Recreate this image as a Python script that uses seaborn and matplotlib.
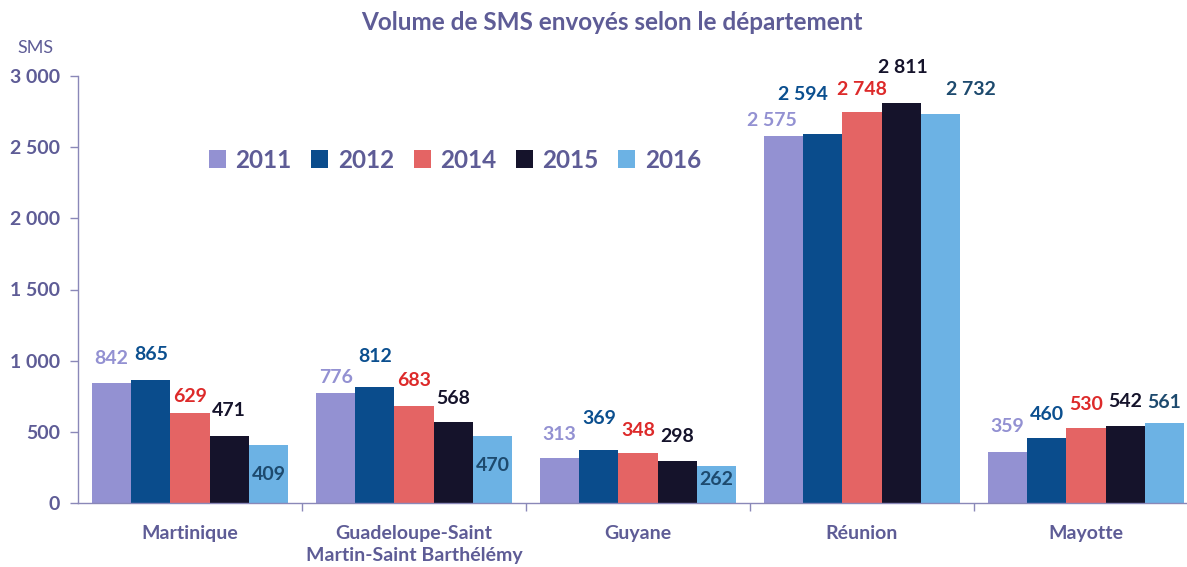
"""Volume de SMS envoyés selon le département (DOM), 2011-2016."""
import matplotlib
matplotlib.use("Agg")
import matplotlib.pyplot as plt
import matplotlib.ticker as mticker
import pandas as pd
import seaborn as sns

DEPARTMENTS = ["Martinique", "Guadeloupe-Saint\nMartin-Saint Barthélémy", "Guyane", "Réunion", "Mayotte"]
YEARS = ["2011", "2012", "2014", "2015", "2016"]
SMS_2011 = [842, 776, 313, 2575, 359]
SMS_2012 = [865, 812, 369, 2594, 460]
SMS_2014 = [629, 683, 348, 2748, 530]
SMS_2015 = [471, 568, 298, 2811, 542]
SMS_2016 = [409, 470, 262, 2732, 561]

BAR_COLORS = ["#9391D2", "#0A4C8C", "#E46464", "#15132B", "#6CB2E4"]
LABEL_COLORS = ["#9391D2", "#0B4F8F", "#DD2A2A", "#15132B", "#1D4A6E"]
TEXT_COLOR = "#5E5C96"
AXIS_COLOR = "#8A88B8"

# label offsets in pixels (dx, dy) per year, per department - layout only
LABEL_DY = [[25, 15, 24, 16, 25], [25, 31, 32, 39, 23], [17, 25, 23, 22, 23],
            [25, 24, 24, 35, 24], [-30, -29, -14, 25, 21]]
LABEL_DX = [[0, 0, 0, -12, 0], [0, 0, 0, -20, 0], [0, 0, 0, 0, 0],
            [0, 0, 0, 2, 0], [0, 0, 0, 30, 0]]


def main() -> None:
    series = [SMS_2011, SMS_2012, SMS_2014, SMS_2015, SMS_2016]
    df = pd.DataFrame(
        [{"dept": d, "year": y, "sms": v} for y, vals in zip(YEARS, series) for d, v in zip(DEPARTMENTS, vals)]
    )

    sns.set_style("white")
    plt.rcParams["font.family"] = ["Lato", "DejaVu Sans"]

    fig = plt.figure(figsize=(11.87, 5.67), dpi=100)
    ax = fig.add_axes([78 / 1187, 1 - 503 / 567, 1120 / 1187, (503 - 76) / 567])
    sns.barplot(data=df, x="dept", y="sms", hue="year", order=DEPARTMENTS, hue_order=YEARS,
                palette=BAR_COLORS, saturation=1, width=0.875, linewidth=0, ax=ax, errorbar=None)

    for i, cont in enumerate(ax.containers):
        for j, bar in enumerate(cont):
            val = series[i][j]
            ax.annotate(f"{val:,}".replace(",", " "),
                        (bar.get_x() + bar.get_width() / 2, bar.get_height()),
                        xytext=(LABEL_DX[i][j], LABEL_DY[i][j]), textcoords="offset pixels",
                        ha="center", va="center", fontsize=14, fontweight="bold", color=LABEL_COLORS[i])

    ax.set_xlim(-0.5, len(DEPARTMENTS) - 0.5)
    ax.set_ylim(0, 3000)
    ax.yaxis.set_major_locator(mticker.MultipleLocator(500))
    ax.yaxis.set_major_formatter(mticker.FuncFormatter(lambda v, _: f"{int(v):,}".replace(",", " ")))
    ax.set_xlabel("")
    ax.set_ylabel("")

    for side in ["top", "right"]:
        ax.spines[side].set_visible(False)
    for side in ["left", "bottom"]:
        ax.spines[side].set_color(AXIS_COLOR)
        ax.spines[side].set_linewidth(1)

    ax.tick_params(axis="y", which="major", left=True, length=6, width=1, color=AXIS_COLOR,
                   labelsize=14, labelcolor=TEXT_COLOR, pad=7)
    ax.tick_params(axis="x", which="major", bottom=False, labelsize=14, labelcolor=TEXT_COLOR, pad=12)
    ax.xaxis.set_minor_locator(mticker.FixedLocator([k + 0.5 for k in range(len(DEPARTMENTS) - 1)]))
    ax.tick_params(axis="x", which="minor", bottom=True, length=6, width=1, color=AXIS_COLOR)
    for lbl in ax.get_xticklabels() + ax.get_yticklabels():
        lbl.set_fontweight("bold")
    for lbl in ax.get_xticklabels():
        lbl.set_linespacing(1.4)

    handles, labels = ax.get_legend_handles_labels()
    ax.get_legend().remove()
    leg = fig.legend(handles, labels, loc="center", bbox_to_anchor=(455 / 1187, 1 - 160 / 567), ncol=5,
                     frameon=False, handlelength=0.7, handleheight=0.7, handletextpad=0.4,
                     columnspacing=0.8, prop={"size": 17.5, "weight": "bold"})
    for t in leg.get_texts():
        t.set_color(TEXT_COLOR)

    fig.text(612 / 1187, 1 - 22 / 567, "Volume de SMS envoyés selon le département", ha="center", va="center",
             fontsize=17.5, fontweight="bold", color=TEXT_COLOR)
    fig.text(35 / 1187, 1 - 48 / 567, "SMS", ha="center", va="center", fontsize=13, color=TEXT_COLOR)

    fig.savefig("out.png", dpi=100, facecolor="white")
    plt.close(fig)


if __name__ == "__main__":
    main()
